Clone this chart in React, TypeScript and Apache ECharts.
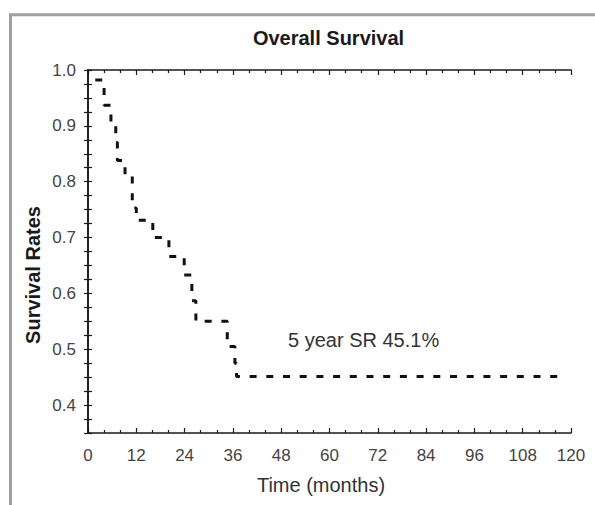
import React, { useEffect, useRef } from "react";
import * as echarts from "echarts";

const titleText = "Overall Survival";
const xAxisTitle = "Time (months)";
const yAxisTitle = "Survival Rates";
const annotation = "5 year SR 45.1%";

// Kaplan-Meier step points: [month, survival after event]
const kmMonths = [1.8, 4.0, 5.7, 6.9, 7.3, 9.2, 11.0, 12.0, 16.1, 20.1, 23.9, 25.8, 26.8, 34.6, 36.5, 36.9, 117];
const kmSurvival = [0.982, 0.937, 0.905, 0.87, 0.838, 0.812, 0.753, 0.731, 0.7, 0.666, 0.633, 0.587, 0.55, 0.505, 0.475, 0.451, 0.451];

const xMin = 0;
const xMax = 120;
const xInterval = 12;
const yMin = 0.35;
const yMax = 1.0;
const yStep = 0.025;

const FONT = "'Liberation Sans', Arial, Helvetica, sans-serif";

export default function App() {
  const ref = useRef<HTMLDivElement>(null);
  useEffect(() => {
    if (!ref.current) return;
    const chart = echarts.init(ref.current, null, { renderer: "svg" });
    const data = kmMonths.map((m, i) => [m, kmSurvival[i]]);
    const yLabel = (v: number) => {
      const r = Math.round(v * 40);
      return r % 4 === 0 ? (r / 40).toFixed(1) : "";
    };
    const axisLine = { show: true, lineStyle: { color: "#1a1a1a", width: 1.6 } };
    chart.setOption({
      animation: false,
      backgroundColor: "#ffffff",
      grid: { left: 88, top: 70, right: 24, bottom: 72, containLabel: false },
      xAxis: [
        {
          type: "value",
          position: "bottom",
          min: xMin,
          max: xMax,
          interval: xInterval,
          axisLine,
          axisTick: { show: true, inside: true, length: 5, lineStyle: { color: "#1a1a1a", width: 1.2 } },
          minorTick: { show: true, splitNumber: 3, length: 3, lineStyle: { color: "#1a1a1a", width: 1.2 } },
          splitLine: { show: false },
          axisLabel: { margin: 14, fontSize: 17, color: "#444", fontFamily: FONT },
        },
        {
          type: "value",
          position: "top",
          min: xMin,
          max: xMax,
          interval: xInterval,
          axisLine,
          axisTick: { show: true, inside: true, length: 5, lineStyle: { color: "#1a1a1a", width: 1.2 } },
          minorTick: { show: true, splitNumber: 3, length: 3, lineStyle: { color: "#1a1a1a", width: 1.2 } },
          splitLine: { show: false },
          axisLabel: { show: false },
        },
      ],
      yAxis: [
        {
          type: "value",
          position: "left",
          min: yMin,
          max: yMax,
          interval: yStep,
          axisLine,
          axisTick: { show: true, inside: true, length: 4, lineStyle: { color: "#1a1a1a", width: 1.2 } },
          splitLine: { show: false },
          axisLabel: { margin: 12, fontSize: 17, color: "#444", fontFamily: FONT, formatter: yLabel },
        },
        {
          type: "value",
          position: "right",
          min: yMin,
          max: yMax,
          interval: yStep,
          axisLine,
          axisTick: { show: true, inside: true, length: 4, lineStyle: { color: "#1a1a1a", width: 1.2 } },
          splitLine: { show: false },
          axisLabel: { show: false },
        },
      ],
      series: [
        {
          type: "line",
          step: "end",
          data,
          symbol: "none",
          clip: false,
          lineStyle: { color: "#111", width: 3, type: [7, 9.7], dashOffset: 0 },
        },
      ],
      graphic: [
        {
          type: "rect",
          silent: true,
          shape: { x: 10.5, y: 14.8, width: 700, height: 700 },
          style: { fill: "none", stroke: "#a0a0a0", lineWidth: 3 },
          z: 0,
        },
        {
          type: "text",
          x: 328.5,
          y: 38,
          style: { text: titleText, font: `bold 20px ${FONT}`, fill: "#1a1a1a", align: "center", verticalAlign: "middle" },
        },
        {
          type: "text",
          x: 33,
          y: 275,
          rotation: Math.PI / 2,
          style: { text: yAxisTitle, font: `bold 20px ${FONT}`, fill: "#1a1a1a", align: "center", verticalAlign: "middle" },
        },
        {
          type: "text",
          x: 321,
          y: 485,
          style: { text: xAxisTitle, font: `20px ${FONT}`, fill: "#333", align: "center", verticalAlign: "middle" },
        },
        {
          type: "text",
          x: 288,
          y: 340,
          style: { text: annotation, font: `20px ${FONT}`, fill: "#333", align: "left", verticalAlign: "middle" },
        },
      ],
    });
    return () => chart.dispose();
  }, []);
  return (
    <div
      ref={ref}
      style={{ position: "fixed", left: 0, top: 0, width: 595, height: 505, background: "#fff" }}
    />
  );
}
